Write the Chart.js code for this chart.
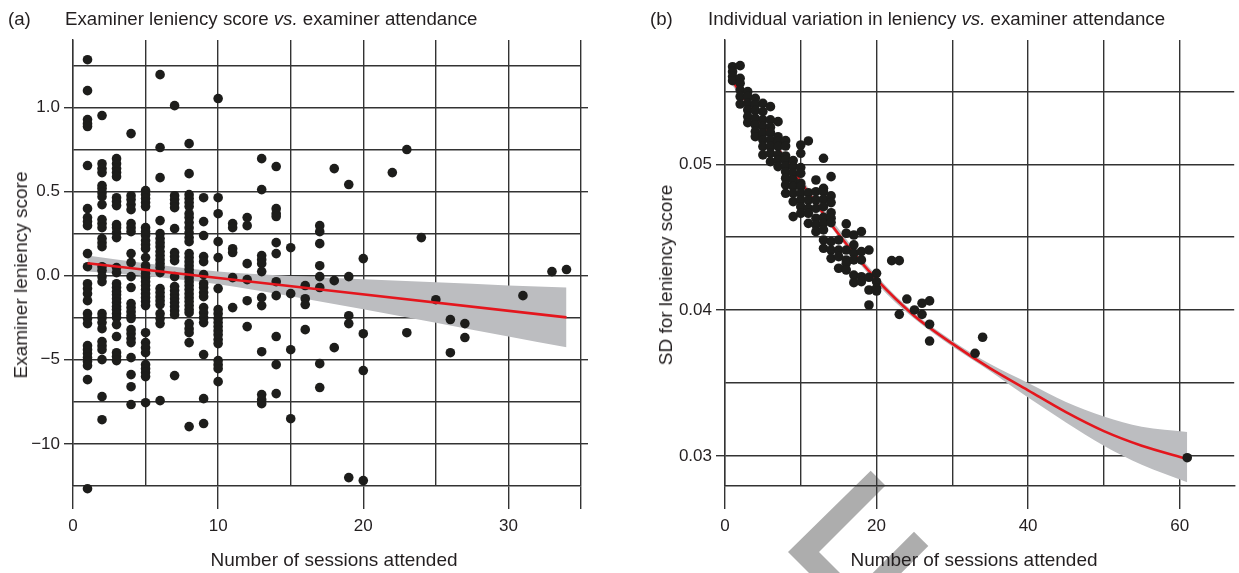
<!DOCTYPE html>
<html><head><meta charset="utf-8">
<script src="https://cdn.jsdelivr.net/npm/chart.js@4.4.1/dist/chart.umd.min.js"></script>
<style>
html,body{margin:0;padding:0;background:#fff;}
#wrap{position:relative;width:1239px;height:573px;overflow:hidden;font-family:'Liberation Sans',Arial,sans-serif;color:#231f20;}
canvas{position:absolute;top:0;}
#ca{left:0;} #cb{left:620px;}
svg{position:absolute;left:0;top:0;}
.t{position:absolute;white-space:nowrap;font-size:18.7px;line-height:22px;top:8px;}
.ax{position:absolute;white-space:nowrap;font-size:19px;line-height:22px;transform:translate(-50%,-50%);}
.ay{position:absolute;white-space:nowrap;font-size:19px;line-height:22px;transform:translate(-50%,-50%) rotate(-90deg);}
</style></head>
<body>
<div id="wrap">
<svg width="1239" height="573"><polygon points="788,552 870.7,470.7 885.5,485.5 819,552 840,573 809,573" fill="#adadad"/><polygon points="914,531.7 928.3,546 901.3,573 872.7,573" fill="#adadad"/></svg>
<canvas id="ca" width="620" height="573"></canvas>
<canvas id="cb" width="619" height="573"></canvas>
<div class="t" style="left:8px;">(a)</div>
<div class="t" style="left:65px;">Examiner leniency score <i>vs.</i> examiner attendance</div>
<div class="t" style="left:650px;">(b)</div>
<div class="t" style="left:708px;">Individual variation in leniency <i>vs.</i> examiner attendance</div>
<div class="ay" style="left:21px;top:275px;">Examiner leniency score</div>
<div class="ay" style="left:666px;top:275px;">SD for leniency score</div>
<div class="ax" style="left:334px;top:560px;">Number of sessions attended</div>
<div class="ax" style="left:974px;top:560px;">Number of sessions attended</div>
</div>
<script>
// ---------- Panel (a) data ----------
const sessionsA = [1,2,3,4,5,6,7,8,9,10,11,12,13,14,15,16,17,18,19,20,22,23,24,25,26,27,31,33,34];
const scoresA = [
 [1.283,1.099,0.927,0.903,0.886,0.654,0.398,0.345,0.321,0.297,0.131,0.053,-0.048,-0.077,-0.107,-0.149,-0.226,-0.255,-0.285,-0.416,-0.440,-0.463,-0.487,-0.511,-0.535,-0.618,-1.266],
 [0.951,0.665,0.636,0.612,0.535,0.517,0.493,0.469,0.422,0.333,0.309,0.285,0.220,0.196,0.172,0.053,0.030,-0.006,-0.036,-0.226,-0.250,-0.279,-0.315,-0.392,-0.416,-0.440,-0.499,-0.719,-0.856],
 [0.695,0.665,0.636,0.612,0.588,0.463,0.440,0.416,0.303,0.285,0.255,0.226,0.048,0.018,-0.048,-0.071,-0.095,-0.113,-0.137,-0.160,-0.184,-0.202,-0.226,-0.250,-0.291,-0.362,-0.458,-0.481,-0.505],
 [0.844,0.475,0.452,0.422,0.392,0.309,0.285,0.261,0.131,0.077,-0.006,-0.071,-0.166,-0.190,-0.214,-0.238,-0.255,-0.321,-0.345,-0.374,-0.398,-0.487,-0.588,-0.660,-0.766],
 [0.505,0.481,0.458,0.434,0.410,0.285,0.261,0.238,0.208,0.184,0.160,0.107,0.059,0.036,0.012,-0.012,-0.036,-0.059,-0.083,-0.107,-0.131,-0.154,-0.178,-0.339,-0.398,-0.428,-0.458,-0.529,-0.553,-0.576,-0.600,-0.755],
 [1.194,0.761,0.582,0.327,0.250,0.220,0.196,0.172,0.143,0.119,0.095,0.071,0.048,0.018,-0.077,-0.101,-0.125,-0.149,-0.172,-0.226,-0.255,-0.285,-0.743],
 [1.010,0.475,0.452,0.428,0.404,0.279,0.137,0.113,0.089,-0.006,-0.065,-0.089,-0.113,-0.137,-0.160,-0.184,-0.208,-0.232,-0.594],
 [0.784,0.606,0.481,0.458,0.434,0.410,0.368,0.345,0.315,0.285,0.255,0.226,0.202,0.131,0.107,0.083,0.059,0.036,0.012,-0.012,-0.036,-0.059,-0.083,-0.107,-0.131,-0.154,-0.178,-0.202,-0.220,-0.285,-0.315,-0.339,-0.398,-0.897],
 [0.463,0.321,0.238,0.113,0.083,0.006,-0.048,-0.071,-0.101,-0.125,-0.190,-0.220,-0.250,-0.279,-0.469,-0.731,-0.879],
 [1.052,0.463,0.368,0.202,0.107,-0.077,-0.202,-0.226,-0.255,-0.279,-0.303,-0.327,-0.351,-0.380,-0.404,-0.505,-0.529,-0.553,-0.630],
 [0.309,0.285,0.160,0.137,-0.012,-0.190],
 [0.345,0.297,0.071,-0.024,-0.149,-0.303],
 [0.695,0.511,0.119,0.095,0.071,0.024,-0.131,-0.178,-0.452,-0.707,-0.737,-0.761],
 [0.648,0.398,0.368,0.351,0.196,0.131,-0.036,-0.119,-0.362,-0.529,-0.701],
 [0.166,-0.107,-0.440,-0.850],
 [-0.059,-0.137,-0.172,-0.321],
 [0.297,0.261,0.190,0.059,-0.006,-0.071,-0.523,-0.665],
 [0.636,-0.030,-0.428],
 [0.541,-0.006,-0.238,-0.285,-1.200],
 [0.101,-0.345,-0.564,-1.218],
 [0.612],
 [0.749,-0.339],
 [0.226],
 [-0.143],
 [-0.261,-0.458],
 [-0.285,-0.368],
 [-0.119],
 [0.024],
 [0.036]
];
const fitXA = [1, 34];
const fitYA = [0.074, -0.248];
const bandXA = [1, 5, 10, 15, 20, 25, 30, 34];
const bandUpA = [0.120, 0.074, 0.025, -0.002, -0.022, -0.040, -0.058, -0.070];
const bandLoA = [0.025, -0.002, -0.051, -0.122, -0.200, -0.280, -0.362, -0.426];
const xGridA = [0, 5, 10, 15, 20, 25, 30, 35];
const xTickMarksA = [0, 10, 20, 30, 35];
const xLabelValsA = [0, 10, 20, 30];
const xLabelTextA = ['0', '10', '20', '30'];
const yGridA = [-1.0, -0.75, -0.5, -0.25, 0, 0.25, 0.5, 0.75, 1.0, 1.25];
const yLabelValsA = [1.0, 0.5, 0.0, -0.5, -1.0];
const yLabelTextA = ['1.0', '0.5', '0.0', '\u22125', '\u221210'];

// ---------- Panel (b) data ----------
const sessionsB = [1,2,3,4,5,6,7,8,9,10,11,12,13,14,15,16,17,18,19,20,22,23,24,25,26,27,33,34,61];
const sdB = [
 [0.05669,0.05635,0.05601,0.05573],
 [0.05676,0.05589,0.05555,0.05509,0.05464,0.05413],
 [0.05498,0.05464,0.05418,0.05372,0.05327,0.05285],
 [0.05452,0.05407,0.05368,0.05315,0.05269,0.05224,0.05189],
 [0.05418,0.05361,0.05304,0.05258,0.05212,0.05167,0.05121,0.05064],
 [0.05395,0.05304,0.05253,0.05217,0.05167,0.05121,0.05075,0.05018],
 [0.05292,0.05189,0.05155,0.05121,0.05064,0.05029,0.04984],
 [0.05162,0.05125,0.05057,0.05029,0.04988,0.04949,0.04904,0.04858,0.04801],
 [0.05025,0.04984,0.04938,0.04892,0.04847,0.04801,0.04744,0.04641],
 [0.05132,0.05075,0.04977,0.04938,0.04870,0.04847,0.04801,0.04755,0.04709,0.04664],
 [0.05160,0.04805,0.04755,0.04698,0.04664,0.04595],
 [0.04892,0.04812,0.04755,0.04698,0.04630,0.04584,0.04538],
 [0.05041,0.04835,0.04812,0.04760,0.04709,0.04636,0.04595,0.04550,0.04481,0.04424],
 [0.04915,0.04783,0.04737,0.04668,0.04630,0.04600,0.04470,0.04412,0.04355],
 [0.04481,0.04412,0.04367,0.04287],
 [0.04591,0.04527,0.04412,0.04344,0.04321,0.04275],
 [0.04515,0.04447,0.04390,0.04344,0.04240,0.04188],
 [0.04538,0.04401,0.04344,0.04229,0.04195],
 [0.04412,0.04225,0.04138,0.04035],
 [0.04252,0.04195,0.04150,0.04131],
 [0.04339],
 [0.04339,0.03971],
 [0.04076],
 [0.04001],
 [0.04047,0.03971],
 [0.04063,0.03903,0.03788],
 [0.03704],
 [0.03814],
 [0.02988]
];
const fitXB = [1, 5, 10, 15, 20, 25, 30, 35, 40, 45, 50, 55, 61];
const fitYB = [0.0557, 0.0526, 0.0488, 0.0452, 0.0421, 0.0396, 0.0377, 0.0360, 0.0345, 0.0330, 0.0317, 0.0307, 0.0298];
const bandXB = [1, 10, 20, 25, 30, 35, 40, 45, 50, 55, 61];
const bandUpB = [0.0560, 0.0491, 0.04235, 0.0398, 0.0379, 0.0363, 0.0350, 0.0337, 0.0327, 0.0320, 0.03165];
const bandLoB = [0.0554, 0.0485, 0.04185, 0.0394, 0.0375, 0.0358, 0.0340, 0.0323, 0.0307, 0.0294, 0.0282];
const xGridB = [0, 10, 20, 30, 40, 50, 60];
const xTickMarksB = [0, 20, 40, 60];
const xLabelValsB = [0, 20, 40, 60];
const xLabelTextB = ['0', '20', '40', '60'];
const yGridB = [0.03, 0.035, 0.04, 0.045, 0.05, 0.055];
const yLabelValsB = [0.03, 0.04, 0.05];
const yLabelTextB = ['0.03', '0.04', '0.05'];

// ---------- helpers ----------
const GRID = '#333333';
const TXT = '#231f20';
const NONE = 'rgba(0,0,0,0)';
const FONT = {family: "'Liberation Sans', Arial, sans-serif", size: 17};
const near = (a, b) => Math.abs(a - b) < 1e-9;
const has = (arr, v) => arr.some(a => near(a, v));
const lab = (vals, texts, v) => { const i = vals.findIndex(a => near(a, v)); return i < 0 ? '' : texts[i]; };
const pts = (xs, ys) => { const out = []; xs.forEach((x, i) => ys[i].forEach(y => out.push({x, y}))); return out; };
const xy = (xs, ys) => xs.map((x, i) => ({x, y: ys[i]}));
const setTicks = vals => s => { s.ticks = vals.map(v => ({value: v})); };

function makeChart(id, cfg) {
  const datasets = [
    {data: xy(cfg.bandX, cfg.bandLo), showLine: true, pointRadius: 0, borderWidth: 0, borderColor: NONE, fill: false, order: 5, cubicInterpolationMode: 'monotone'},
    {data: xy(cfg.bandX, cfg.bandUp), showLine: true, pointRadius: 0, borderWidth: 0, borderColor: NONE, backgroundColor: '#bcbdc0', fill: '-1', order: 4, cubicInterpolationMode: 'monotone'},
    {data: pts(cfg.sx, cfg.sy), pointRadius: 4.8, pointBackgroundColor: '#1d1d1b', backgroundColor: '#1d1d1b', pointBorderWidth: 0, borderWidth: 0, order: cfg.pointsOnTop ? 1 : 2, clip: false},
    {data: xy(cfg.fitX, cfg.fitY), showLine: true, pointRadius: 0, borderColor: '#e4161d', borderWidth: 2.6, fill: false, order: cfg.pointsOnTop ? 2 : 1, cubicInterpolationMode: 'monotone'}
  ];
  const scales = {
    x: {type: 'linear', position: 'bottom', min: cfg.xmin, max: cfg.xmax,
      afterBuildTicks: setTicks(cfg.xGrid),
      afterFit: s => { s.height = 87; },
      grid: {color: GRID, lineWidth: 1.4, drawTicks: true, tickLength: 23,
        tickColor: c => (c.tick && has(cfg.xMarks, c.tick.value)) ? GRID : NONE, tickWidth: 1.4},
      border: {display: true, color: GRID, width: 1.4},
      ticks: {padding: 7, font: FONT, color: TXT, maxRotation: 0, autoSkip: false,
        callback: v => lab(cfg.xLabVals, cfg.xLabText, v)}
    },
    y: {type: 'linear', position: 'left', min: cfg.ymin, max: cfg.ymax,
      afterBuildTicks: setTicks(cfg.yGrid),
      afterFit: s => { s.width = cfg.yWidth; },
      grid: {color: GRID, lineWidth: 1.4, drawTicks: true, tickLength: 9,
        tickColor: c => (c.tick && has(cfg.yLabVals, c.tick.value)) ? GRID : NONE, tickWidth: 1.4},
      border: {display: true, color: GRID, width: 1.4},
      ticks: {padding: 4, font: FONT, color: TXT, autoSkip: false,
        callback: v => lab(cfg.yLabVals, cfg.yLabText, v)}
    }
  };
  if (cfg.rightAxis) {
    scales.y2 = {type: 'linear', position: 'right', min: cfg.ymin, max: cfg.ymax,
      afterBuildTicks: setTicks(cfg.yLabVals),
      afterFit: s => { s.width = 39; },
      grid: {drawOnChartArea: false, drawTicks: true, tickLength: 7, tickColor: GRID, tickWidth: 1.4, color: GRID, lineWidth: 1.4},
      border: {display: false},
      ticks: {display: false}
    };
  }
  return new Chart(document.getElementById(id), {
    type: 'scatter',
    data: {datasets},
    options: {
      responsive: false, animation: false, events: [],
      layout: {padding: {top: 40, left: 0, right: 0, bottom: 0}},
      plugins: {legend: {display: false}, tooltip: {enabled: false}, title: {display: false}},
      scales
    }
  });
}

makeChart('ca', {
  sx: sessionsA, sy: scoresA, fitX: fitXA, fitY: fitYA, bandX: bandXA, bandUp: bandUpA, bandLo: bandLoA,
  xmin: 0, xmax: 35, ymin: -1.25, ymax: 1.4,
  xGrid: xGridA, xMarks: xTickMarksA, xLabVals: xLabelValsA, xLabText: xLabelTextA,
  yGrid: yGridA, yLabVals: yLabelValsA, yLabText: yLabelTextA,
  yWidth: 73, rightAxis: true, pointsOnTop: false
});
makeChart('cb', {
  sx: sessionsB, sy: sdB, fitX: fitXB, fitY: fitYB, bandX: bandXB, bandUp: bandUpB, bandLo: bandLoB,
  xmin: 0, xmax: 67.2, ymin: 0.02794, ymax: 0.05852,
  xGrid: xGridB, xMarks: xTickMarksB, xLabVals: xLabelValsB, xLabText: xLabelTextB,
  yGrid: yGridB, yLabVals: yLabelValsB, yLabText: yLabelTextB,
  yWidth: 105, rightAxis: false, pointsOnTop: true
});
</script>
</body></html>
